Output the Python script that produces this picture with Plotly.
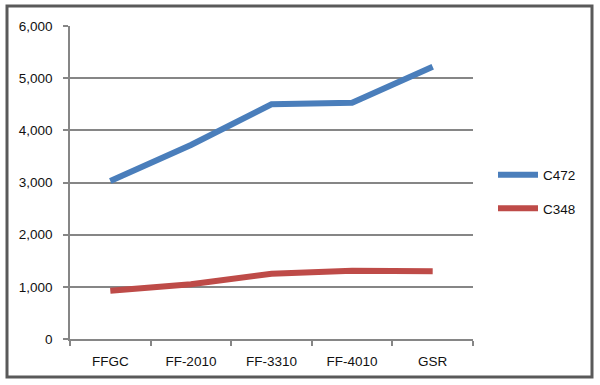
import plotly.graph_objects as go

categories = ["FFGC", "FF-2010", "FF-3310", "FF-4010", "GSR"]
c472 = [3030, 3720, 4500, 4530, 5220]
c348 = [925, 1050, 1250, 1310, 1300]
y_ticks = [0, 1000, 2000, 3000, 4000, 5000, 6000]

W, H = 600, 385
L, R, T, B = 70, 127, 26, 46
pw, ph = W - L - R, H - T - B

def px(x):
    return (x - L) / pw

def py(y):
    return (H - B - y) / ph

fig = go.Figure()
fig.add_trace(go.Scatter(x=categories, y=c472, mode="lines", name="C472",
                         legendgroup="a",
                         line=dict(color="#4A7EBB", width=6)))
fig.add_trace(go.Scatter(x=categories, y=c348, mode="lines", name="C348",
                         legendgroup="b",
                         line=dict(color="#BE4B48", width=6)))

font = dict(family="Liberation Sans, Arial, sans-serif", size=13.5, color="#111111")

fig.update_layout(
    width=W, height=H,
    margin=dict(l=L, r=R, t=T, b=B, autoexpand=False),
    paper_bgcolor="white", plot_bgcolor="white",
    font=font,
    showlegend=True,
    legend=dict(x=px(493), y=py(192), xanchor="left", yanchor="middle",
                traceorder="grouped", tracegroupgap=13,
                font=font, bgcolor="rgba(0,0,0,0)", itemwidth=40),
    xaxis=dict(type="category", range=[-0.5, 4.5], tickson="boundaries",
               ticks="outside", ticklen=5, tickcolor="#868686", tickwidth=1.5,
               showline=True, linecolor="#868686", linewidth=1.5,
               showgrid=False, tickfont=font, ticklabelstandoff=9),
    yaxis=dict(range=[0, 6000], tickvals=y_ticks, tickformat=",d",
               ticks="outside", ticklen=5, tickcolor="#868686", tickwidth=1.5,
               showline=True, linecolor="#868686", linewidth=1.5,
               showgrid=True, gridcolor="#868686", gridwidth=1.5,
               zeroline=False, tickfont=font, ticklabelstandoff=8),
    shapes=[dict(type="rect", xref="paper", yref="paper",
                 x0=px(7), x1=px(592), y0=py(377), y1=py(6),
                 line=dict(color="#5a5a5a", width=3), fillcolor="rgba(0,0,0,0)",
                 layer="below")],
)

fig.write_html("out.html", config={"displayModeBar": False},
               post_script="document.body.style.margin='0';document.body.style.overflow='hidden';")
